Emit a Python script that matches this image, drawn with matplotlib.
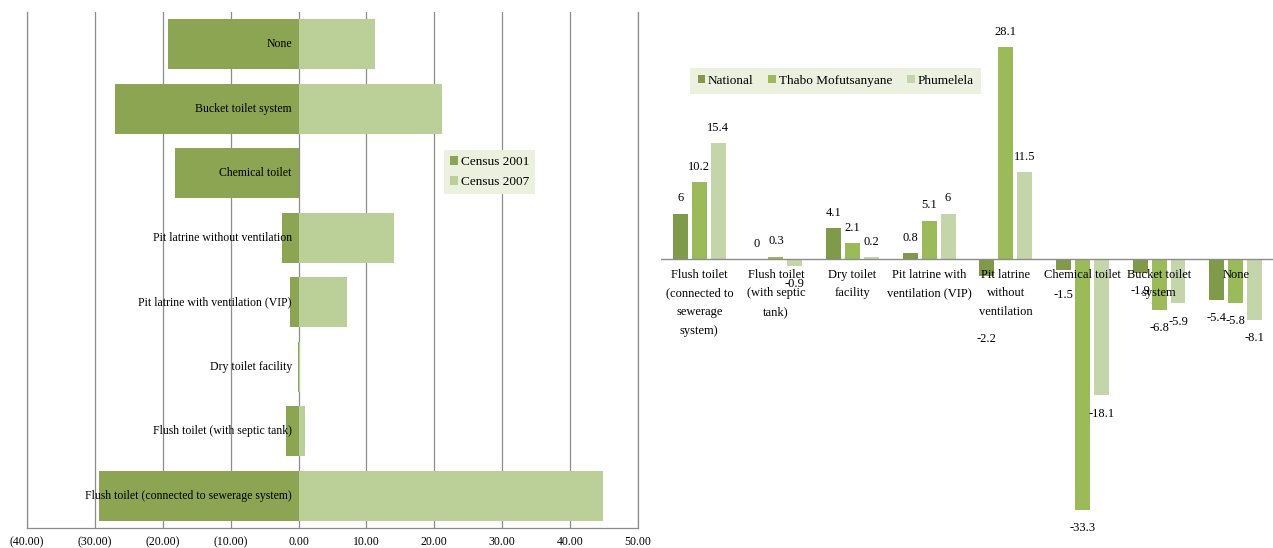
import matplotlib.pyplot as plt
import numpy as np

# toilet facility shares, census 2001 vs 2007
facilities = ["Flush toilet (connected to sewerage system)", "Flush toilet (with septic tank)",
              "Dry toilet facility", "Pit latrine with ventilation (VIP)",
              "Pit latrine without ventilation", "Chemical toilet",
              "Bucket toilet system", "None"]
census_2001 = [-29.4, -1.9, -0.1, -1.2, -2.5, -18.2, -27.0, -19.2]
census_2007 = [44.8, 1.0, 0.2, 7.2, 14.1, 0.0, 21.1, 11.2]

# percentage point change per area
change_labels = ["Flush toilet\n(connected to\nsewerage\nsystem)", "Flush toilet\n(with septic\ntank)",
                 "Dry toilet\nfacility", "Pit latrine with\nventilation (VIP)",
                 "Pit latrine\nwithout\nventilation", "Chemical toilet",
                 "Bucket toilet\nsystem", "None"]
national = [6, 0, 4.1, 0.8, -2.2, -1.5, -1.9, -5.4]
thabo = [10.2, 0.3, 2.1, 5.1, 28.1, -33.3, -6.8, -5.8]
phumelela = [15.4, -0.9, 0.2, 6, 11.5, -18.1, -5.9, -8.1]

plt.rcParams['font.family'] = ['Liberation Serif', 'DejaVu Serif']

fig = plt.figure(figsize=(12.73, 5.48), dpi=100)
W, H = 1273, 548

# ---- left: back-to-back bars ----
ax1 = fig.add_axes([27 / W, 20 / H, 611 / W, 516 / H])
y = np.arange(len(facilities))
ax1.barh(y, census_2001, height=0.78, color='#8ca552', label='Census 2001', zorder=2)
ax1.barh(y, census_2007, height=0.78, color='#bbcf99', label='Census 2007', zorder=2)
for i, name in enumerate(facilities):
    ax1.text(-1.0, i, name, ha='right', va='center', fontsize=8.5, zorder=3)
ax1.set_xlim(-40, 50)
ax1.set_ylim(-0.5, len(facilities) - 0.5)
ax1.set_xticks(np.arange(-40, 51, 10))
ax1.set_xticklabels([f"({abs(v):.2f})" if v < 0 else f"{v:.2f}" for v in range(-40, 51, 10)])
ax1.tick_params(axis='x', length=0, labelsize=8.5, pad=6)
ax1.set_yticks([])
ax1.grid(axis='x', color='#8c8c8c', linewidth=0.9, zorder=0)
ax1.spines['top'].set_visible(False)
for s in ['left', 'bottom', 'right']:
    ax1.spines[s].set_color('#8c8c8c')
    ax1.spines[s].set_linewidth(0.9)
leg1 = ax1.legend(loc='upper left', bbox_to_anchor=(0.672, 0.745), fontsize=9.5,
                  handlelength=0.6, handleheight=0.6, handletextpad=0.2,
                  labelspacing=0.6, borderpad=0.45, frameon=True, fancybox=False)
leg1.get_frame().set_facecolor('#ebf1de')
leg1.get_frame().set_edgecolor('none')
leg1.get_frame().set_alpha(1)

# ---- right: grouped change bars ----
ax2 = fig.add_axes([661 / W, 20 / H, 613 / W, 516 / H])
x = np.arange(len(change_labels))
w, step = 0.195, 0.247
series = [(national, '#7f9a48', 'National'),
          (thabo, '#9bbb59', 'Thabo Mofutsanyane'),
          (phumelela, '#c4d6a9', 'Phumelela')]
nudge = {(0, 4): -33, (0, 5): -5}
for k, (vals, col, name) in enumerate(series):
    xs = x + (k - 1) * step
    ax2.bar(xs, vals, width=w, color=col, label=name, zorder=2)
    for j, (xx, v) in enumerate(zip(xs, vals)):
        off = 11 if v >= 0 else -13
        off += nudge.get((k, j), 0)
        ax2.annotate(f"{v:g}", (xx, v), xytext=(0, off), textcoords='offset points',
                     ha='center', va='center', fontsize=9, zorder=4)
for i, lab in enumerate(change_labels):
    ax2.annotate(lab, (i, 0), xytext=(0, -7), textcoords='offset points',
                 ha='center', va='top', fontsize=9, linespacing=1.75, zorder=5)
ax2.axhline(0, color='#8c8c8c', linewidth=1, zorder=3)
ax2.set_xlim(-0.5, len(change_labels) - 0.5)
ax2.set_ylim(-35.68, 32.76)
ax2.set_xticks([])
ax2.set_yticks([])
for s in ax2.spines.values():
    s.set_visible(False)
leg2 = ax2.legend(loc='upper left', bbox_to_anchor=(0.037, 0.905), ncol=3, fontsize=9.5,
                  handlelength=0.6, handleheight=0.6, handletextpad=0.2,
                  columnspacing=1.1, borderpad=0.55, frameon=True, fancybox=False)
leg2.get_frame().set_facecolor('#ebf1de')
leg2.get_frame().set_edgecolor('none')
leg2.get_frame().set_alpha(1)

fig.savefig('out.png', dpi=100)
